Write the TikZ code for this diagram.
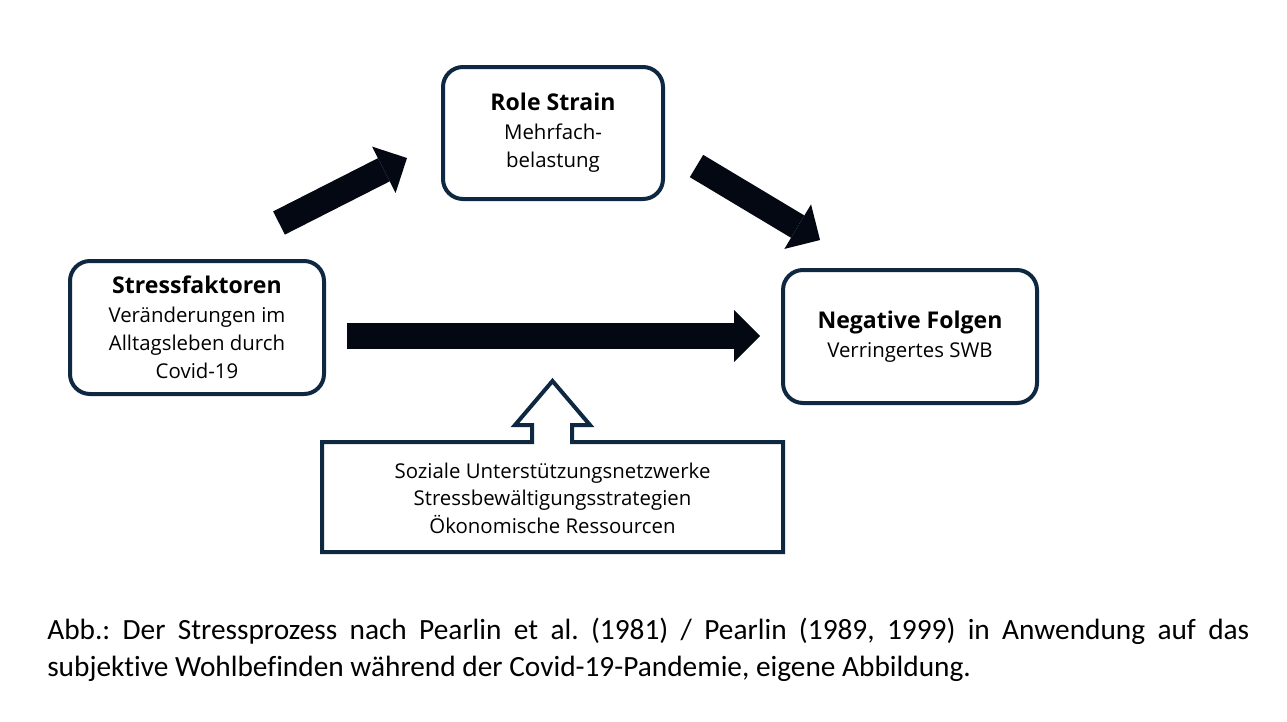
\documentclass[tikz,border=0pt]{standalone}
\usepackage{fontspec}
\setmainfont{Open Sans}
\newfontfamily\capfont{Carlito}[Ligatures=NoCommon]
\usetikzlibrary{arrows.meta}
\definecolor{navy}{HTML}{0E2841}
\definecolor{arrowblk}{HTML}{030812}
\newcommand{\ttl}[1]{{\fontsize{17.3}{21}\selectfont\bfseries #1}}
\frenchspacing
\begin{document}
\begin{tikzpicture}[x=0.75pt,y=-0.75pt,
  box/.style={draw=navy, line width=3pt, rounded corners=15pt, align=center,
    font=\fontsize{15.3}{21}\selectfont, inner sep=0pt},
  txt/.style={align=center, font=\fontsize{15.3}{20.6}\selectfont, inner sep=0pt},
  blockarrow/.style={draw=arrowblk, line width=19.5pt,
    -{Triangle[width=39pt,length=19.5pt,line width=0pt,fill=arrowblk]}}
]
\useasboundingbox[fill=white] (0,0) rectangle (1287,721);

% boxes
\node[box, minimum width=165pt, minimum height=99pt] (role) at (553,133)
  {\ttl{Role Strain}\\[1pt]Mehrfach-\\belastung};
\node[box, minimum width=190.5pt, minimum height=99.75pt] (stress) at (197,327.5)
  {\ttl{Stressfaktoren}\\[1pt]Veränderungen im\\Alltagsleben durch\\Covid-19};
\node[box, minimum width=190.5pt, minimum height=99.75pt] (neg) at (910,336.5)
  {\ttl{Negative Folgen}\\[1pt]Verringertes SWB};

% arrow-shaped callout
\draw[navy, line width=3pt, line join=miter]
  (322,442) -- (532,442) -- (532,425) -- (515,425) -- (552.5,381) -- (590,425)
  -- (572,425) -- (572,442) -- (783,442) -- (783,552) -- (322,552) -- cycle;
\node[txt] (res) at (552.5,498)
  {Soziale Unterstützungsnetzwerke\\Stressbewältigungsstrategien\\Ökonomische Ressourcen};

% block arrows
\coordinate (u1) at (279,223);
\coordinate (u2) at (407,158);
\coordinate (d1) at (696.5,166);
\coordinate (d2) at (820,240);
\coordinate (h1) at (347,336);
\coordinate (h2) at (760,336);
\draw[blockarrow] (u1) -- (u2);
\draw[blockarrow] (d1) -- (d2);
\draw[blockarrow] (h1) -- (h2);

% caption
\node[anchor=north west, text width=901.5pt, align=justify, inner sep=0pt,
  font=\capfont\fontsize{22}{27.75}\selectfont] (cap) at (47,618)
  {Abb.: Der Stressprozess nach Pearlin et al. (1981) / Pearlin (1989, 1999) in Anwendung auf das\linebreak
   subjektive Wohlbefinden während der Covid-19-Pandemie, eigene Abbildung.};
\end{tikzpicture}
\end{document}
